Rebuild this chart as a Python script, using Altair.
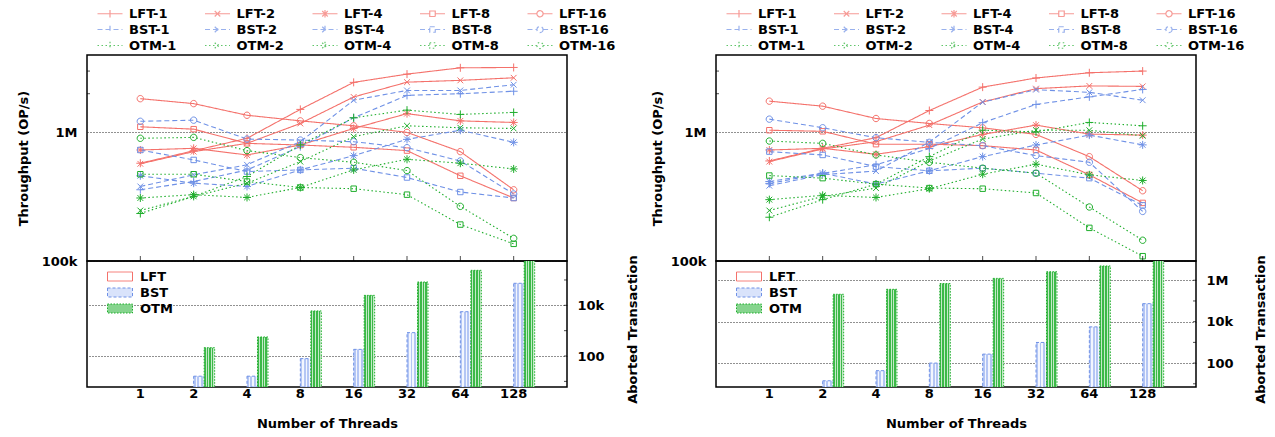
import altair as alt
import pandas as pd

THREADS = ["1", "2", "4", "8", "16", "32", "64", "128"]
METHODS = ["LFT", "BST", "OTM"]
SIZES = ["1", "2", "4", "8", "16"]

# ---- left panel: throughput (thousand OP/s) ----
L_LFT_1 = [576, 720, 900, 1510, 2450, 2840, 3180, 3200]
L_LFT_2 = [570, 709, 822, 1174, 1887, 2460, 2540, 2660]
L_LFT_4 = [730, 752, 668, 798, 1074, 1400, 1230, 1195]
L_LFT_8 = [1106, 1060, 822, 798, 766, 722, 460, 309]
L_LFT_16 = [1830, 1675, 1360, 1230, 1126, 1000, 709, 358]
L_BST_1 = [358, 415, 510, 775, 1300, 1940, 2000, 2090]
L_BST_2 = [380, 468, 560, 847, 1780, 2120, 2120, 2350]
L_BST_4 = [460, 403, 380, 511, 660, 883, 1040, 837]
L_BST_8 = [730, 611, 496, 511, 527, 446, 344, 309]
L_BST_16 = [1220, 1245, 888, 872, 847, 761, 600, 332]
L_OTM_1 = [234, 318, 454, 800, 1300, 1490, 1380, 1430]
L_OTM_2 = [247, 318, 403, 593, 926, 1126, 1087, 1074]
L_OTM_4 = [309, 328, 312, 373, 511, 618, 576, 520]
L_OTM_8 = [473, 473, 415, 373, 365, 328, 192, 136]
L_OTM_16 = [900, 915, 722, 637, 586, 505, 266, 150]

# ---- right panel: throughput (thousand OP/s) ----
R_LFT_1 = [600, 752, 910, 1480, 2250, 2650, 2910, 3000]
R_LFT_2 = [593, 743, 847, 1140, 1726, 2190, 2300, 2280]
R_LFT_4 = [730, 752, 676, 775, 965, 1140, 970, 953]
R_LFT_8 = [1040, 1020, 810, 810, 789, 730, 468, 283]
R_LFT_16 = [1750, 1600, 1283, 1174, 1086, 965, 648, 352]
R_BST_1 = [400, 480, 560, 750, 1190, 1650, 1890, 2160]
R_BST_2 = [385, 470, 500, 840, 1720, 2150, 2050, 1780]
R_BST_4 = [415, 482, 396, 503, 648, 798, 953, 800]
R_BST_8 = [709, 668, 542, 503, 527, 482, 441, 271]
R_BST_16 = [1268, 1087, 910, 837, 789, 660, 586, 243]
R_OTM_1 = [219, 300, 396, 648, 1040, 1010, 1195, 1126]
R_OTM_2 = [247, 318, 369, 600, 888, 1040, 1040, 942]
R_OTM_4 = [300, 324, 312, 365, 473, 566, 468, 423]
R_OTM_8 = [462, 441, 396, 369, 365, 338, 181, 109]
R_OTM_16 = [857, 822, 668, 586, 527, 482, 263, 145]

# ---- aborted transactions (None = no aborts) ----
L_ABORT_BST = [None, 16, 16, 79, 183, 835, 5600, 74000]
L_ABORT_OTM = [None, 213, 564, 6000, 24700, 83000, 240000, 900000]
R_ABORT_BST = [None, 14, 43, 100, 271, 990, 5600, 74000]
R_ABORT_OTM = [None, 210000, 365000, 690000, 1230000, 2570000, 4900000, 12000000]

# axis tick values
TOP_MINOR_TICKS = [2e6, 3e6]
L_ABORT_TICKS = [10, 100, 1e3, 1e4, 1e5]
R_ABORT_TICKS = [10, 100, 1e3, 1e4, 1e5, 1e6]

LEFT = {
    "LFT-1": L_LFT_1, "LFT-2": L_LFT_2, "LFT-4": L_LFT_4, "LFT-8": L_LFT_8, "LFT-16": L_LFT_16,
    "BST-1": L_BST_1, "BST-2": L_BST_2, "BST-4": L_BST_4, "BST-8": L_BST_8, "BST-16": L_BST_16,
    "OTM-1": L_OTM_1, "OTM-2": L_OTM_2, "OTM-4": L_OTM_4, "OTM-8": L_OTM_8, "OTM-16": L_OTM_16,
}
RIGHT = {
    "LFT-1": R_LFT_1, "LFT-2": R_LFT_2, "LFT-4": R_LFT_4, "LFT-8": R_LFT_8, "LFT-16": R_LFT_16,
    "BST-1": R_BST_1, "BST-2": R_BST_2, "BST-4": R_BST_4, "BST-8": R_BST_8, "BST-16": R_BST_16,
    "OTM-1": R_OTM_1, "OTM-2": R_OTM_2, "OTM-4": R_OTM_4, "OTM-8": R_OTM_8, "OTM-16": R_OTM_16,
}

FONT = "DejaVu Sans"
FS = 13
COL = {"LFT": "#f4716b", "BST": "#6f91e6", "OTM": "#1fae2c"}
DASH = {"LFT": [1, 0], "BST": [5, 3], "OTM": [1.5, 2.5]}
BAR_FILL = {"LFT": "#ffffff", "BST": "#d9e3fb", "OTM": "#86d48e"}
BAR_DASH = {"LFT": [1, 0], "BST": [3, 2], "OTM": [1.5, 1.5]}


def stripes(dark, light, n):
    stops = []
    for i in range(n):
        a, b, c = i / n, (i + 0.55) / n, (i + 1) / n
        stops += [alt.GradientStop(offset=a, color=dark), alt.GradientStop(offset=b, color=dark),
                  alt.GradientStop(offset=b, color=light), alt.GradientStop(offset=c, color=light)]
    return alt.LinearGradient(gradient="linear", stops=stops, x1=0, x2=1, y1=0, y2=0)


BAR_PATTERN = {"BST": stripes("#b4c6f4", "#f3f6fe", 3), "OTM": stripes("#3cb948", "#c4eac8", 4)}

PLUS = "M-1,0H1M0,-1V1"
TIMES = "M-0.72,-0.72L0.72,0.72M-0.72,0.72L0.72,-0.72"
STAR = PLUS + TIMES
SQUARE = "M-0.68,-0.68H0.68V0.68H-0.68Z"
CIRCLE = "M0.8,0A0.8,0.8,0,1,1,-0.8,0A0.8,0.8,0,1,1,0.8,0Z"
MARKERS = [PLUS, TIMES, STAR, SQUARE, CIRCLE]

# legend samples: a 25 px line with the marker in its middle (unit = 5 px)
LEG_MARKERS = [
    "M-2.5,0H2.5M0,-0.75V0.75",
    "M-2.5,0H2.5M-0.55,-0.55L0.55,0.55M-0.55,0.55L0.55,-0.55",
    "M-2.5,0H2.5M0,-0.75V0.75M-0.55,-0.55L0.55,0.55M-0.55,0.55L0.55,-0.55",
    "M-2.5,0H-0.55M0.55,0H2.5M-0.55,-0.55H0.55V0.55H-0.55Z",
    "M-2.5,0H-0.62M0.62,0H2.5M0.62,0A0.62,0.62,0,1,1,-0.62,0A0.62,0.62,0,1,1,0.62,0Z",
]
RECT = "M-2.5,-0.9H2.5V0.9H-2.5Z"

SERIES = [f"{m}-{s}" for m in METHODS for s in SIZES]
S_COLOR = [COL[m] for m in METHODS for s in SIZES]
S_DASH = [DASH[m] for m in METHODS for s in SIZES]
S_SHAPE = [MARKERS[i] for m in METHODS for i in range(5)]
S_LEG = [LEG_MARKERS[i] for m in METHODS for i in range(5)]

LBL = ("datum.value >= 1e6 ? format(datum.value/1e6,'d')+'M' : datum.value >= 1e3 ? "
       "format(datum.value/1e3,'d')+'k' : format(datum.value,'d')")

W, H_TOP, H_BOT = 480, 206, 126


def line_table(panel):
    rows = []
    for s, vals in panel.items():
        for t, v in zip(THREADS, vals):
            rows.append({"series": s, "threads": t, "value": v * 1000})
    return pd.DataFrame(rows)


def bar_table(bst, otm):
    rows = []
    for m, vals in (("BST", bst), ("OTM", otm)):
        for t, v in zip(THREADS, vals):
            if v is not None:
                rows.append({"method": m, "threads": t, "aborts": v})
    return pd.DataFrame(rows)


def top_chart(panel, title_x):
    df = line_table(panel)
    xscale = alt.Scale(type="point", domain=THREADS, padding=1)
    yscale = alt.Scale(type="log", domain=[1e5, 4e6], nice=False)
    x = alt.X("threads:N", sort=THREADS, scale=xscale, axis=None)
    y = alt.Y("value:Q", scale=yscale,
              axis=alt.Axis(values=[1e5, 1e6], labelExpr=LBL, grid=True,
                            gridDash=[1, 2], gridColor="#222", ticks=False, tickSize=0,
                            domain=False, title="Throughput (OP/s)",
                            labelPadding=10, titleX=title_x, titleY=103, titleAngle=270,
                            titleAlign="center", titleBaseline="middle"))
    base = alt.Chart(df)
    lines = base.mark_line(strokeWidth=1.1, clip=True).encode(
        x=x, y=y,
        color=alt.Color("series:N", scale=alt.Scale(domain=SERIES, range=S_COLOR), legend=None),
        strokeDash=alt.StrokeDash("series:N", scale=alt.Scale(domain=SERIES, range=S_DASH), legend=None),
    )
    points = base.mark_point(filled=False, size=64, strokeWidth=1, opacity=1, clip=True).encode(
        x=x, y=y,
        color=alt.Color("series:N", scale=alt.Scale(domain=SERIES, range=S_COLOR), legend=None),
        shape=alt.Shape("series:N", scale=alt.Scale(domain=SERIES, range=S_SHAPE), legend=None),
    )
    leg = alt.Legend(orient="none", legendX=16.5, legendY=-48, columns=5,
                     direction="horizontal", title=None,
                     symbolSize=100, symbolStrokeWidth=1.2, labelFont=FONT,
                     labelFontSize=FS, labelFontWeight="bold", labelColor="black",
                     columnPadding=25.5, rowPadding=2, labelOffset=12.5, padding=0)
    legend_layer = base.transform_filter("datum.value < 0").mark_point(filled=False).encode(
        color=alt.Color("series:N", scale=alt.Scale(domain=SERIES, range=S_COLOR), legend=leg),
        shape=alt.Shape("series:N", scale=alt.Scale(domain=SERIES, range=S_LEG), legend=leg),
        strokeDash=alt.StrokeDash("series:N", scale=alt.Scale(domain=SERIES, range=S_DASH), legend=leg),
    )
    yticks = alt.Chart(pd.DataFrame({"v": TOP_MINOR_TICKS})).mark_tick(
        orient="horizontal", size=3, thickness=1, color="black").encode(
        y=alt.Y("v:Q", scale=yscale), x=alt.value(1.5))
    xticks = alt.Chart(pd.DataFrame({"t": THREADS})).mark_tick(
        orient="vertical", size=5, thickness=1, color="black").encode(
        x=alt.X("t:N", sort=THREADS, scale=xscale), y=alt.value(H_TOP - 2.5))
    return alt.layer(lines, points, yticks, xticks, legend_layer).resolve_scale(
        color="independent", shape="independent", strokeDash="independent"
    ).properties(width=W, height=H_TOP)


def bottom_chart(bst, otm, domain, values, ticks, title_x):
    df = bar_table(bst, otm)
    yscale = alt.Scale(type="log", domain=domain, nice=False)
    x = alt.X("threads:N", sort=THREADS,
              scale=alt.Scale(domain=THREADS, paddingInner=0.2125, paddingOuter=0.606),
              axis=alt.Axis(title="Number of Threads", labelAngle=0, ticks=False, tickSize=0,
                            domain=False, labelPadding=0, titlePadding=17))
    xoff = alt.XOffset("method:N", scale=alt.Scale(domain=["_", "LFT", "BST", "OTM"],
                                                    paddingInner=0, paddingOuter=0))
    y = alt.Y("aborts:Q", scale=yscale,
              axis=alt.Axis(orient="right", values=values, labelExpr=LBL, grid=True,
                            gridDash=[1, 2], gridColor="#222", ticks=False, tickSize=0,
                            domain=False, title="Aborted Transaction", titleAngle=270,
                            titleX=title_x, titleY=68, titleAlign="center",
                            titleBaseline="middle", labelPadding=10))
    y2 = alt.datum(domain[0])
    base = alt.Chart(df)
    layers = []
    for m in ("BST", "OTM"):
        layers.append(
            base.transform_filter(alt.datum.method == m).mark_bar(
                clip=True, strokeWidth=1, fill=BAR_PATTERN[m], stroke=COL[m],
                strokeDash=BAR_DASH[m]).encode(x=x, xOffset=xoff, y=y, y2=y2)
        )
    leg = alt.Legend(orient="none", legendX=26.5, legendY=9, title=None,
                     symbolType=RECT, symbolSize=100, symbolStrokeWidth=1,
                     labelFont=FONT, labelFontSize=FS, labelFontWeight="bold",
                     labelColor="black", rowPadding=2, labelOffset=13.5, padding=0)
    legend_layer = base.transform_filter("datum.aborts < 0").mark_bar().encode(
        fill=alt.Fill("method:N", scale=alt.Scale(domain=METHODS, range=[BAR_FILL[m] for m in METHODS]), legend=leg),
        stroke=alt.Stroke("method:N", scale=alt.Scale(domain=METHODS, range=[COL[m] for m in METHODS]), legend=leg),
        strokeDash=alt.StrokeDash("method:N", scale=alt.Scale(domain=METHODS, range=[BAR_DASH[m] for m in METHODS]), legend=leg),
    )
    yticks = alt.Chart(pd.DataFrame({"v": ticks})).mark_tick(
        orient="horizontal", size=3, thickness=1, color="black").encode(
        y=alt.Y("v:Q", scale=yscale), x=alt.value(W - 1.5))
    return alt.layer(*layers, yticks, legend_layer).resolve_scale(
        fill="independent", stroke="independent", strokeDash="independent"
    ).properties(width=W, height=H_BOT)


chart = alt.concat(
    top_chart(LEFT, -64),
    top_chart(RIGHT, -59),
    bottom_chart(L_ABORT_BST, L_ABORT_OTM, [6, 5.6e5], [100, 1e4], L_ABORT_TICKS, 65),
    bottom_chart(R_ABORT_BST, R_ABORT_OTM, [7, 8.5e6], [100, 1e4, 1e6], R_ABORT_TICKS, 64),
    columns=2, spacing={"row": 0, "column": 149}, bounds="flush",
).properties(
    padding={"left": 16, "top": 6, "right": 0, "bottom": 0}
).configure_view(stroke="black", strokeWidth=1.5).configure_axis(
    labelFont=FONT, labelFontSize=FS, labelFontWeight="bold", labelColor="black",
    titleFont=FONT, titleFontSize=FS, titleFontWeight="bold", titleColor="black",
)

chart.save("out.html", embed_options={"renderer": "svg", "actions": False})
